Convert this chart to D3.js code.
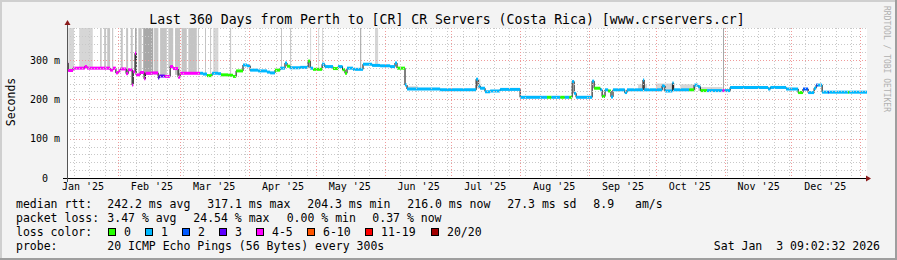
<!DOCTYPE html>
<html>
<head>
<meta charset="utf-8">
<script src="https://cdn.jsdelivr.net/npm/d3@7"></script>
<style>
  body { margin: 0; background: #f3f3f3; }
  text { font-family: "DejaVu Sans Mono", monospace; fill: #000; }
</style>
</head>
<body>
<div id="chart"></div>
<script>
// median rtt per time step: day offset from start, value in ms, loss class index
const medDays = [0, 0.5, 2.7, 8, 9, 19.4, 20.7, 22, 23, 24, 26.6, 27.5, 29.3, 29.8, 30.6, 31.1, 32.9, 34.7, 35.3, 38.3,
  41, 41.5, 44, 46.4, 47.7, 50, 50.9, 59.9, 61.2, 63, 65.3, 68, 69.3, 72.5, 74.7, 76.1, 79.2, 81, 82.4, 86,
  90, 91.4, 93.6, 95.9, 98.1, 99, 100.4, 104.9, 108.5, 109.4, 110.7, 114.8, 116, 119.7, 122, 124, 125.1, 126, 128.7, 133.2,
  137.3, 140.9, 145.4, 147.6, 148.5, 152.1, 153, 167.9, 184.1, 185, 185.9, 188.1, 190.4, 194.9, 203.9, 213.8, 216, 218, 222, 224,
  226, 227.3, 228.2, 229.1, 236.3, 237.2, 240, 240.8, 242.1, 243.5, 244.8, 245.7, 251, 252, 259.2, 259.7, 267.8, 269.1, 272.4, 273,
  280, 282.2, 284, 285, 288, 295, 296, 298.4, 315.5, 316.5, 323.6, 329, 331.2, 333.5, 336.2, 337.1, 338, 339.8, 342.5, 343,
  351.5, 352];
const medMs = [292, 273, 279, 283, 279, 274, 279, 267, 272, 277, 265, 275, 236, 270, 317, 262, 268, 252, 266, 267,
  254, 259, 258, 283, 278, 256, 266, 266, 264, 260, 266, 265, 262, 261, 258, 272, 287, 285, 274, 272,
  269, 267, 274, 279, 292, 284, 280, 281, 297, 279, 276, 289, 283, 278, 283, 275, 266, 279, 276, 289,
  286, 285, 283, 292, 279, 236, 226, 224, 251, 234, 228, 219, 221, 225, 205, 205, 205, 205, 205, 205,
  205, 245, 215, 205, 246, 228, 224, 207, 224, 221, 206, 224, 217, 224, 249, 224, 234, 221, 241, 224,
  224, 236, 232, 222, 222, 222, 222, 230, 226, 230, 226, 217, 226, 217, 228, 236, 236, 218, 218, 218,
  218, 218];
const medLoss = [4, 4, 4, 4, 4, 4, 4, 4, 4, 4, 4, 4, 4, 4, 4, 4, 4, 4, 4, 4,
  3, 3, 4, 4, 4, 4, 4, 1, 1, 0, 1, 1, 0, 0, 0, 0, 1, 1, 1, 1,
  1, 1, 0, 1, 1, 0, 1, 1, 0, 1, 0, 1, 1, 0, 1, 0, 0, 1, 1, 1,
  1, 1, 1, 1, 0, 1, 1, 1, 1, 1, 1, 1, 1, 1, 1, 1, 0, 1, 0, 1,
  0, 1, 1, 1, 1, 0, 1, 0, 1, 0, 1, 1, 1, 1, 1, 1, 1, 1, 1, 1,
  0, 1, 1, 0, 1, 4, 1, 1, 1, 1, 1, 0, 2, 1, 1, 2, 1, 1, 2, 1,
  0, 1];

// smoke (spread of the pings): from/to day, low/high ms, shade
const smokeFrom = [0.6, 5.5, 14.9, 16.7, 18.1, 20.3, 24.2, 26.6, 28.7, 30.6, 32.1, 34.3, 39.2, 41.9, 45.6, 48.6, 51.6, 54.6, 58.9, 62.1,
  64.4, 65.8, 73.4, 96.3, 100.4, 109.4, 113, 114.8, 131.9, 138.6, 295.2, 153, 184, 257, 265, 276, 284];
const smokeTo = [3.2, 11.6, 15.6, 17.6, 19.4, 20.8, 25.1, 27.5, 29.6, 31.4, 33.6, 38.8, 41.1, 44.9, 47.8, 50.9, 53.9, 58.4, 59.3, 62.5,
  64.8, 68.1, 73.8, 96.7, 100.8, 109.8, 113.4, 115.2, 132.4, 140, 295.6, 158, 186, 261, 272, 283, 295];
const smokeLo = [275, 278, 278, 278, 276, 278, 276, 270, 270, 300, 266, 262, 262, 258, 278, 262, 266, 266, 266, 264,
  262, 265, 261, 279, 280, 279, 276, 289, 276, 286, 222, 226, 228, 222, 222, 222, 221];
const smokeHi = [400, 400, 400, 400, 400, 400, 400, 400, 400, 400, 400, 400, 400, 400, 400, 400, 400, 400, 400, 400,
  400, 400, 400, 400, 400, 400, 400, 400, 400, 400, 400, 233, 251, 238, 240, 238, 231];
const smokeShade = [0, 0, 1, 1, 1, 1, 1, 1, 1, 2, 1, 2, 1, 1, 1, 1, 1, 1, 1, 1,
  1, 0, 1, 1, 1, 0, 0, 0, 2, 0, 2, 0, 0, 0, 0, 0, 0];

// tick labels
const monthLabels = ["Jan '25", "Feb '25", "Mar '25", "Apr '25", "May '25", "Jun '25",
  "Jul '25", "Aug '25", "Sep '25", "Oct '25", "Nov '25", "Dec '25"];
const yTicks = [0, 100, 200, 300];
const yLabels = ["0", "100 m", "200 m", "300 m"];

// legend
const lossNames = ["0", "1", "2", "3", "4-5", "6-10", "11-19", "20/20"];
const lossColors = ["#26ff00", "#00b8ff", "#0059ff", "#5e00ff", "#ff00ff", "#ff5500", "#ff0000", "#a10000"];
const rttStats = ["242.2 ms avg", "317.1 ms max", "204.3 ms min", "216.0 ms now", "27.3 ms sd", "8.9", "am/s"];
const lossStats = ["3.47 % avg", "24.54 % max", "0.00 % min", "0.37 % now"];

const W = 897, H = 260;
const shades = ["#d6d6d6", "#c4c4c4", "#a8a8a8"];
const t0 = new Date(2025, 0, 9), t1 = new Date(2026, 0, 4);
const dayToDate = d => new Date(t0.getTime() + d * 864e5);

const svg = d3.select("#chart").append("svg")
  .attr("width", W).attr("height", H);

// frame
svg.append("rect").attr("width", W).attr("height", H).attr("fill", "#f3f3f3");
svg.append("path").attr("d", `M0,0H${W}V2H2V${H}H0Z`).attr("fill", "#cfcfcf");
svg.append("path").attr("d", `M${W},${H}H0V${H-2}H${W-2}V0H${W}Z`).attr("fill", "#9e9e9e");

const x = d3.scaleTime().domain([t0, t1]).range([67, 867]);
const y = d3.scaleLinear().domain([0, 381]).range([178, 28]);

svg.append("rect")
  .attr("x", 67).attr("y", 28).attr("width", 800).attr("height", 150)
  .attr("fill", "#fff");

const plot = svg.append("g");
svg.append("clipPath").attr("id", "clip")
  .append("rect").attr("x", 67).attr("y", 28).attr("width", 800).attr("height", 150);
plot.attr("clip-path", "url(#clip)");

// smoke
plot.selectAll("rect.smoke")
  .data(d3.range(smokeFrom.length))
  .enter().append("rect")
    .attr("class", "smoke")
    .attr("x", i => x(dayToDate(smokeFrom[i])))
    .attr("width", i => Math.max(1, x(dayToDate(smokeTo[i])) - x(dayToDate(smokeFrom[i]))))
    .attr("y", i => y(smokeHi[i]))
    .attr("height", i => y(smokeLo[i]) - y(smokeHi[i]))
    .attr("fill", i => shades[smokeShade[i]]);

// grid
const gGrid = svg.append("g").attr("shape-rendering", "crispEdges");
const weeks = d3.timeSunday.range(t0, t1);
const months = d3.timeMonth.range(t0, t1);
gGrid.selectAll("line.wk").data(weeks).enter().append("line")
  .attr("x1", d => Math.round(x(d)) + 0.5).attr("x2", d => Math.round(x(d)) + 0.5)
  .attr("y1", 28).attr("y2", 178)
  .attr("stroke", "#c8c8c8").attr("stroke-dasharray", "1,2");
const minorY = d3.range(20, 381, 20).filter(v => v % 100 !== 0);
gGrid.selectAll("line.hy").data(minorY).enter().append("line")
  .attr("x1", 67).attr("x2", 867)
  .attr("y1", d => Math.round(y(d)) + 0.5).attr("y2", d => Math.round(y(d)) + 0.5)
  .attr("stroke", "#c8c8c8").attr("stroke-dasharray", "1,2");
gGrid.selectAll("line.mo").data(months).enter().append("line")
  .attr("x1", d => Math.round(x(d)) + 0.5).attr("x2", d => Math.round(x(d)) + 0.5)
  .attr("y1", 28).attr("y2", 178)
  .attr("stroke", "#f09a9a").attr("stroke-dasharray", "1,2");
gGrid.selectAll("line.my").data(yTicks.slice(1)).enter().append("line")
  .attr("x1", 67).attr("x2", 867)
  .attr("y1", d => Math.round(y(d)) + 0.5).attr("y2", d => Math.round(y(d)) + 0.5)
  .attr("stroke", "#f09a9a").attr("stroke-dasharray", "1,2");

// median: thin black step line, then coloured horizontal pieces
const pts = medDays.map((d, i) => ({t: dayToDate(d), v: medMs[i], l: medLoss[i]}));
const tEnd = dayToDate(360);
const line = d3.line().x(d => x(d.t)).y(d => y(d.v)).curve(d3.curveStepAfter);
plot.append("path")
  .datum(pts.concat([{t: tEnd, v: pts[pts.length - 1].v}]))
  .attr("d", line)
  .attr("fill", "none").attr("stroke", "#000").attr("stroke-width", 1);
plot.selectAll("line.med").data(pts).enter().append("line")
  .attr("x1", d => x(d.t))
  .attr("x2", (d, i) => x(i < pts.length - 1 ? pts[i + 1].t : tEnd))
  .attr("y1", d => y(d.v)).attr("y2", d => y(d.v))
  .attr("stroke", d => lossColors[d.l]).attr("stroke-width", 3);

// axes
const ax = svg.append("g").attr("shape-rendering", "crispEdges");
ax.append("line").attr("x1", 63).attr("x2", 867).attr("y1", 178.5).attr("y2", 178.5).attr("stroke", "#000");
ax.append("line").attr("x1", 67.5).attr("x2", 67.5).attr("y1", 182).attr("y2", 24).attr("stroke", "#555");
svg.append("path").attr("d", "M866,175.5L871,178.5L866,181.5Z").attr("fill", "#8b1a1a");
svg.append("path").attr("d", "M64.5,25L67.5,20L70.5,25Z").attr("fill", "#8b1a1a");

const xAxis = d3.axisBottom(x)
  .tickValues(monthLabels.map((m, i) => new Date(2025, i, 16)))
  .tickFormat((d, i) => monthLabels[i])
  .tickSize(0).tickPadding(5);
svg.append("g").attr("transform", "translate(0,178)").call(xAxis)
  .call(g => g.select(".domain").remove())
  .selectAll("text").attr("font-size", 10).attr("font-family", "DejaVu Sans Mono").attr("fill", "#000");

const yAxis = d3.axisLeft(y).tickValues(yTicks).tickFormat((d, i) => yLabels[i]).tickSize(0).tickPadding(7);
svg.append("g").attr("transform", "translate(67,0)").call(yAxis)
  .call(g => g.select(".domain").remove())
  .selectAll("text").attr("font-size", 10).attr("font-family", "DejaVu Sans Mono").attr("fill", "#000")
  .attr("x", (d, i) => yLabels[i].length === 1 ? -19 : -7);

// title and labels
svg.append("text").attr("x", 447).attr("y", 23.5).attr("text-anchor", "middle")
  .attr("font-size", 13.2)
  .text("Last 360 Days from Perth to [CR] CR Servers (Costa Rica) [www.crservers.cr]");
svg.append("text").attr("transform", "translate(15,102) rotate(-90)")
  .attr("text-anchor", "middle").attr("font-size", 11.5).text("Seconds");
svg.append("text").attr("transform", "translate(884,6) rotate(90)")
  .attr("font-size", 8).style("fill", "#b0b0b0").text("RRDTOOL / TOBI OETIKER");

// legend
const fs = 11.5;
const leg = svg.append("g").attr("font-size", fs);
leg.append("text").attr("x", 16).attr("y", 207.5).text("median rtt:");
const rttX = [107.3, 207.3, 307.3, 407.3, 507.3, 593.3, 635];
rttStats.forEach((s, i) => leg.append("text").attr("x", rttX[i]).attr("y", 207.5).text(s));
leg.append("text").attr("x", 16).attr("y", 221.5).text("packet loss:");
const lossX = [107.3, 193.3, 286.7, 372.3];
lossStats.forEach((s, i) => leg.append("text").attr("x", lossX[i]).attr("y", 221.5).text(s));
leg.append("text").attr("x", 16).attr("y", 235.5).text("loss color:");
const boxX = [108.5, 145.5, 182.5, 219.5, 256.5, 307.5, 365.5, 431.5];
lossNames.forEach((n, i) => {
  leg.append("rect").attr("x", boxX[i]).attr("y", 228.5).attr("width", 7).attr("height", 7)
    .attr("fill", lossColors[i]).attr("stroke", "#000").attr("stroke-width", 1);
  leg.append("text").attr("x", boxX[i] + 15.5).attr("y", 235.5).text(n);
});
leg.append("text").attr("x", 16).attr("y", 249.5).text("probe:");
leg.append("text").attr("x", 107.3).attr("y", 249.5).text("20 ICMP Echo Pings (56 Bytes) every 300s");
leg.append("text").attr("x", 880).attr("y", 249.5).attr("text-anchor", "end")
  .style("white-space", "pre").text("Sat Jan  3 09:02:32 2026");
</script>
</body>
</html>
